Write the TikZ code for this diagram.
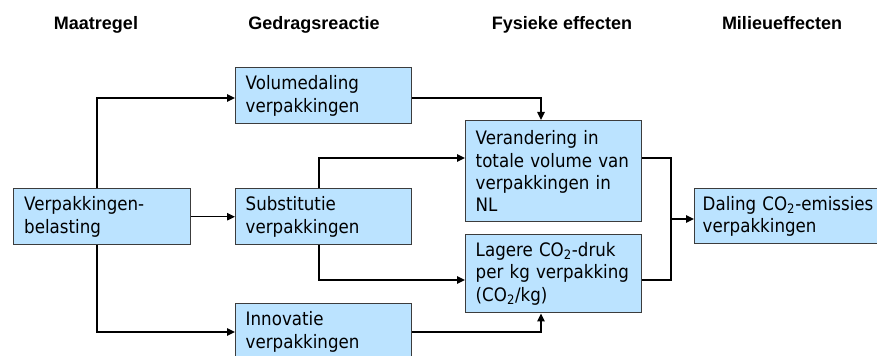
\documentclass[tikz,border=0pt]{standalone}
\usepackage{fontspec}
\setmainfont{DejaVu Sans}[FakeStretch=0.9]
\newfontfamily\headfont{Liberation Sans}
\usetikzlibrary{arrows.meta}

\definecolor{boxblue}{RGB}{187,227,255}
\definecolor{boxline}{RGB}{60,60,60}

\tikzset{
  box/.style={draw=boxline, fill=boxblue, line width=1.1pt, anchor=north west,
    minimum width=132pt, text width=117pt, inner xsep=7.5pt, align=left,
    font=\fontsize{13.9pt}{16.8pt}\selectfont},
  head/.style={anchor=base, inner sep=0pt, font=\headfont\bfseries\fontsize{13.5pt}{16pt}\selectfont},
  link/.style={line width=1.1pt},
  arr/.style={link, -{Triangle[length=6pt,width=5.5pt]}}
}

\begin{document}
\begin{tikzpicture}[x=0.75pt,y=0.75pt,yscale=-1,xscale=1]
	\useasboundingbox (0,0) rectangle (877,356);

	% Text Node
	\node [head] (hmaat) at (96,30) {Maatregel};
	% Text Node
	\node [head] (hgedrag) at (314,30) {Gedragsreactie};
	% Text Node
	\node [head] (hfys) at (562,30) {Fysieke effecten};
	% Text Node
	\node [head] (hmilieu) at (782,30) {Milieueffecten};

	% Boxes
	\node [box, minimum height=42pt, minimum width=132.75pt] (belasting) at (13,188) {Verpakkingen-\\belasting};
	\node [box, minimum height=42pt] (volume) at (235,67) {Volumedaling\\verpakkingen};
	\node [box, minimum height=42pt] (subst) at (235,188) {Substitutie\\verpakkingen};
	\node [box, minimum height=42pt] (innov) at (235,303) {Innovatie\\verpakkingen};
	\node [box, minimum height=75.75pt] (verand) at (465,120) {Verandering in\\totale volume van\\verpakkingen in\\NL};
	\node [box, minimum height=58.5pt] (lagere) at (465,234) {Lagere CO\textsubscript{2}-druk\\per kg verpakking\\(CO\textsubscript{2}/kg)};
	\node [box, minimum height=41.25pt, minimum width=136.5pt, text width=125pt, inner xsep=6pt] (daling) at (694,188) {\mbox{Daling CO\textsubscript{2}-emissies}\\verpakkingen};

	% bend points
	\coordinate (m1) at (97,98);
	\coordinate (m2) at (97,332);
	\coordinate (s1) at (319,158);
	\coordinate (s2) at (319,280);
	\coordinate (v1) at (541,98);
	\coordinate (i1) at (541,332);
	\coordinate (r1) at (671,158);
	\coordinate (r2) at (671,280);
	\coordinate (r3) at (671,219);

	% Straight Lines
	\draw [arr] (belasting.north -| m1) -- (m1) -- (volume.west |- m1);
	\draw [arr] (belasting.south -| m2) -- (m2) -- (innov.west |- m2);
	\draw [arr] (belasting.east) -- (subst.west);
	\draw [arr] (subst.north -| s1) -- (s1) -- (verand.west |- s1);
	\draw [arr] (subst.south -| s2) -- (s2) -- (lagere.west |- s2);
	\draw [arr] (volume.east |- v1) -- (v1) -- (verand.north -| v1);
	\draw [arr] (innov.east |- i1) -- (i1) -- (lagere.south -| i1);
	\draw [link] (verand.east |- r1) -- (r1) -- (r2) -- (lagere.east |- r2);
	\draw [arr] (r3) -- (daling.west |- r3);

\end{tikzpicture}
\end{document}
